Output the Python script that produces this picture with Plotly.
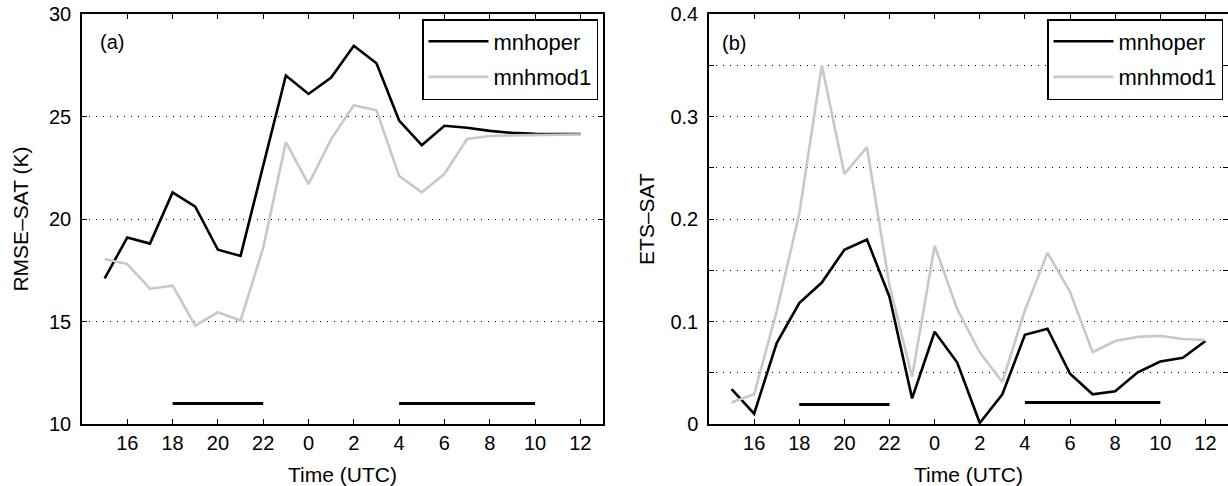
import plotly.graph_objects as go

# ---- data ----
hours = list(range(15, 37))  # 15 UTC day 1 ... 12 UTC day 2
tick_hours = list(range(16, 37, 2))
tick_labels = [str(h % 24) for h in tick_hours]

rmse_mnhoper = [17.1, 19.1, 18.8, 21.3, 20.6, 18.5, 18.2, 22.6, 27.0, 26.1, 26.9, 28.45,
                27.6, 24.8, 23.6, 24.55, 24.45, 24.3, 24.2, 24.16, 24.15, 24.15]
rmse_mnhmod1 = [18.05, 17.8, 16.6, 16.75, 14.8, 15.45, 15.05, 18.6, 23.75, 21.7, 23.9, 25.55,
                25.3, 22.1, 21.3, 22.2, 23.9, 24.05, 24.08, 24.1, 24.12, 24.12]

ets_mnhoper = [0.034, 0.010, 0.079, 0.118, 0.138, 0.170, 0.180, 0.124, 0.025, 0.090, 0.060,
               0.001, 0.029, 0.087, 0.093, 0.049, 0.029, 0.032, 0.0505, 0.061, 0.0645, 0.081]
ets_mnhmod1 = [0.021, 0.029, 0.110, 0.205, 0.350, 0.244, 0.270, 0.135, 0.046, 0.174, 0.112,
               0.070, 0.041, 0.111, 0.167, 0.129, 0.070, 0.081, 0.085, 0.086, 0.083, 0.082]

period_starts = [18, 28]
period_ends = [22, 34]
rmse_period_levels = [11, 11]
ets_period_levels = [0.019, 0.021]

series_names = ["mnhoper", "mnhmod1"]
series_colors = ["#000000", "#c8c8c8"]

# ---- figure ----
W, H = 1228, 486
L, R, T, B = 82, 0, 14, 62
FONT = "Liberation Sans, Arial, Helvetica, sans-serif"
FS = 20
LFS = 22

fig = go.Figure()

for vals, name, col in zip([rmse_mnhoper, rmse_mnhmod1], series_names, series_colors):
    fig.add_trace(go.Scatter(x=hours, y=vals, mode="lines", name=name, legendgroup="a" + name,
                             line=dict(color=col, width=2.6), xaxis="x", yaxis="y",
                             legend="legend"))
for vals, name, col in zip([ets_mnhoper, ets_mnhmod1], series_names, series_colors):
    fig.add_trace(go.Scatter(x=hours, y=vals, mode="lines", name=name, legendgroup="b" + name,
                             line=dict(color=col, width=2.6), xaxis="x2", yaxis="y2",
                             legend="legend2"))

for s, e, lv in zip(period_starts, period_ends, rmse_period_levels):
    fig.add_trace(go.Scatter(x=[s, e], y=[lv, lv], mode="lines", showlegend=False,
                             line=dict(color="black", width=3), xaxis="x", yaxis="y"))
for s, e, lv in zip(period_starts, period_ends, ets_period_levels):
    fig.add_trace(go.Scatter(x=[s, e], y=[lv, lv], mode="lines", showlegend=False,
                             line=dict(color="black", width=3), xaxis="x2", yaxis="y2"))

pw = W - L - R
ph = H - T - B
dom1 = [0, (603 - L) / pw]
dom2 = [(709 - L) / pw, 1.0]

axis_common = dict(showline=True, linecolor="black", linewidth=1.5, mirror="ticks",
                   ticks="inside", ticklen=5, tickwidth=1.2, tickcolor="black",
                   zeroline=False, ticklabeloverflow="allow",
                   tickfont=dict(family=FONT, size=FS, color="black"))

xcommon = dict(axis_common, range=[14, 37], tickvals=tick_hours, ticktext=tick_labels,
               showgrid=False, ticklabelstandoff=0,
               title=dict(text="Time (UTC)", font=dict(family=FONT, size=21, color="black"),
                          standoff=16))

ets_ticks = [0, 0.05, 0.1, 0.15, 0.2, 0.25, 0.3, 0.35, 0.4]
ets_ticktext = ["0", "", "0.1", "", "0.2", "", "0.3", "", "0.4"]

legend_common = dict(xanchor="right", y=(H - B - 19) / ph, yanchor="top",
                     bgcolor="white", bordercolor="black", borderwidth=1.5,
                     font=dict(family=FONT, size=LFS, color="black"), itemwidth=60,
                     tracegroupgap=4)

fig.update_layout(
    width=W, height=H,
    margin=dict(l=L, r=R, t=T, b=B, autoexpand=False),
    paper_bgcolor="white", plot_bgcolor="white",
    font=dict(family=FONT, size=FS, color="black"),
    xaxis=dict(xcommon, domain=dom1, anchor="y"),
    xaxis2=dict(xcommon, domain=dom2, anchor="y2"),
    yaxis=dict(axis_common, range=[10, 30], tickvals=[10, 15, 20, 25, 30],
               showgrid=True, gridcolor="black", gridwidth=1, griddash="1px,6px",
               ticklabelstandoff=5, anchor="x",
               title=dict(text="RMSE\u2013SAT (K)", font=dict(family=FONT, size=21, color="black"),
                          standoff=15)),
    yaxis2=dict(axis_common, range=[0, 0.4], tickvals=ets_ticks, ticktext=ets_ticktext,
                showgrid=True, gridcolor="black", gridwidth=1, griddash="1px,6px",
                ticklabelstandoff=5, anchor="x2",
                title=dict(text="ETS\u2013SAT", font=dict(family=FONT, size=21, color="black"),
                           standoff=10)),
    legend=dict(legend_common, x=(598 - L) / pw),
    legend2=dict(legend_common, x=(1223 - L) / pw),
    showlegend=True,
    annotations=[
        dict(text="(a)", x=14.7, y=28.63, xref="x", yref="y", xanchor="left", yanchor="middle",
             showarrow=False, font=dict(family=FONT, size=FS, color="black")),
        dict(text="(b)", x=14.5, y=0.372, xref="x2", yref="y2", xanchor="left", yanchor="middle",
             showarrow=False, font=dict(family=FONT, size=FS, color="black")),
    ],
)

fig.write_html("out.html", config={"displayModeBar": False},
               post_script="document.body.style.margin='0px';")
